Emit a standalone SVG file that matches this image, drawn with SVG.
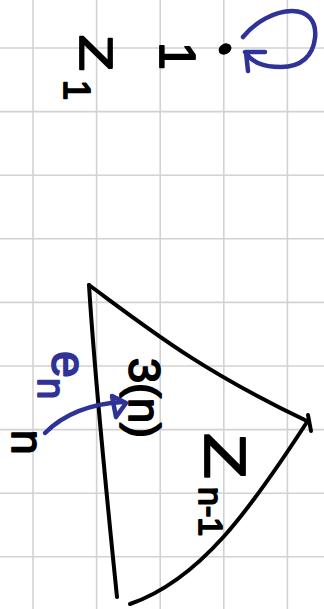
<svg xmlns="http://www.w3.org/2000/svg" width="324" height="609" viewBox="0 0 324 609">
<style>
.grid{stroke:#d2d2d2;stroke-width:1.6}
.ink{fill:none;stroke:#000;stroke-width:4;stroke-linecap:round;stroke-linejoin:round}
.blue{fill:none;stroke:#2f3296;stroke-width:4.5;stroke-linecap:round;stroke-linejoin:round}
.t{font-family:"Liberation Sans",Arial,sans-serif;fill:#000;stroke:#000;stroke-width:1.8;stroke-linejoin:round}
.tb{font-family:"Liberation Sans",Arial,sans-serif;fill:#2f3296;stroke:#2f3296;stroke-width:1.8;stroke-linejoin:round}
</style>
<rect width="324" height="609" fill="#fff"/>
<g id="grid" class="grid">
<line x1="33" y1="0" x2="33" y2="609"/>
<line x1="96.6" y1="0" x2="96.6" y2="609"/>
<line x1="160.2" y1="0" x2="160.2" y2="609"/>
<line x1="223.8" y1="0" x2="223.8" y2="609"/>
<line x1="287.4" y1="0" x2="287.4" y2="609"/>
<line x1="0" y1="48" x2="324" y2="48"/>
<line x1="0" y1="111.6" x2="324" y2="111.6"/>
<line x1="0" y1="175.2" x2="324" y2="175.2"/>
<line x1="0" y1="238.8" x2="324" y2="238.8"/>
<line x1="0" y1="302.4" x2="324" y2="302.4"/>
<line x1="0" y1="366" x2="324" y2="366"/>
<line x1="0" y1="429.6" x2="324" y2="429.6"/>
<line x1="0" y1="493.2" x2="324" y2="493.2"/>
<line x1="0" y1="556.8" x2="324" y2="556.8"/>
</g>
<g id="label-z1">
<text class="t" transform="translate(80,35) rotate(90)" font-size="46" textLength="36" lengthAdjust="spacingAndGlyphs">Z</text>
<text class="t" transform="translate(64,80) rotate(90)" font-size="36">1</text>
</g>
<g id="node-1">
<ellipse cx="225" cy="49" rx="6" ry="4.5" transform="rotate(-30 225 49)" fill="#000" stroke="#000" stroke-width="1.5"/>
<text class="t" transform="translate(160,42) rotate(90)" font-size="50">1</text>
</g>
<g id="triangle">
<path class="ink" d="M89,285 C95,380 105,480 117,597"/>
<path class="ink" d="M89,285 C150,330 200,370 307,421"/>
<path class="ink" d="M307,422 C250,510 200,580 130,604"/>
<path class="ink" d="M308,415 L311,431"/>
<text class="t" transform="translate(129,358) rotate(90)" font-size="44" textLength="80" lengthAdjust="spacingAndGlyphs">3(n)</text>
<text class="t" transform="translate(205,433) rotate(90)" font-size="58" textLength="46" lengthAdjust="spacingAndGlyphs">Z</text>
<text class="t" transform="translate(199,487) rotate(90)" font-size="34">n-1</text>
</g>
<g id="label-n">
<text class="t" transform="translate(12,430) rotate(90)" font-size="44">n</text>
</g>
<g id="connectors">
<path class="blue" d="M245,52 C252,62 262,67 281,67 C301,67 313,56 315,38 C317,20 307,11 292,11 C275,11 255,22 243,37"/>
<path class="blue" d="M265,52 L246,52 L248,71"/>
<path class="blue" d="M45,433 C60,418 85,404 123,402"/>
<path class="blue" d="M112,396 L126,403 L116,417 Z" fill="#2f3296"/>
<text class="tb" transform="translate(52,351) rotate(90)" font-size="48">e</text>
<text class="tb" transform="translate(38,378) rotate(90)" font-size="38">n</text>
</g>
</svg>
